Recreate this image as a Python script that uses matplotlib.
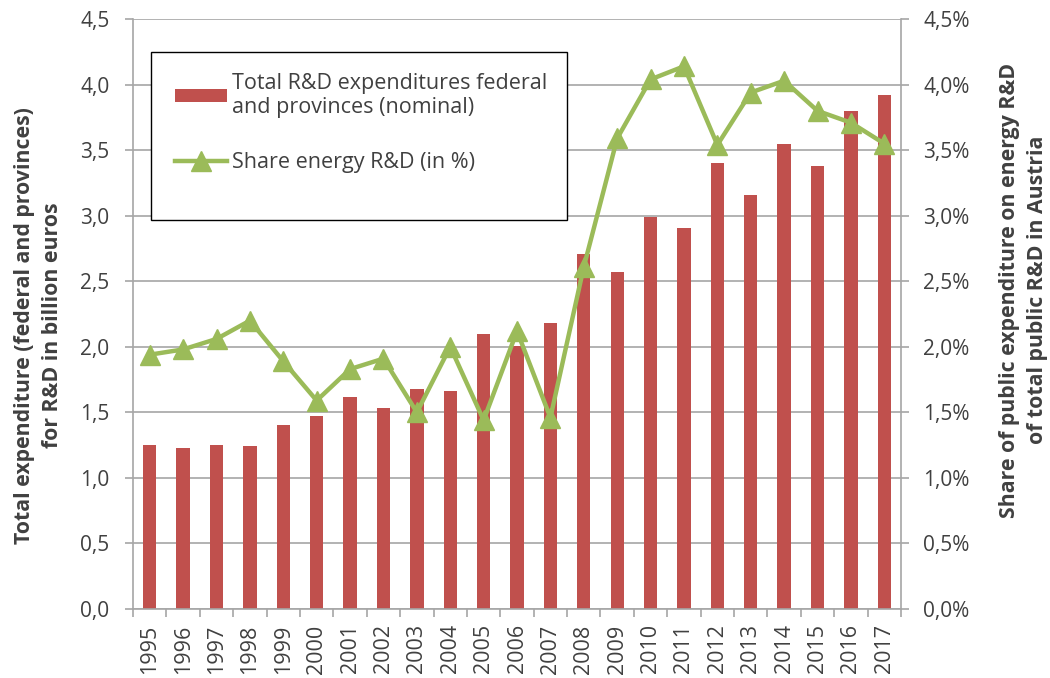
import numpy as np
import matplotlib.pyplot as plt
from matplotlib.ticker import FuncFormatter, FixedLocator
from matplotlib.patches import Rectangle

# data
years = [str(y) for y in range(1995, 2018)]
total_rd = [1.25, 1.23, 1.25, 1.24, 1.40, 1.47, 1.62, 1.53, 1.68, 1.66, 2.10, 2.01,
            2.18, 2.71, 2.57, 2.99, 2.91, 3.40, 3.16, 3.55, 3.38, 3.80, 3.92]
share_energy = [1.94, 1.98, 2.06, 2.20, 1.89, 1.59, 1.83, 1.91, 1.50, 2.00, 1.44, 2.12,
                1.46, 2.61, 3.59, 4.04, 4.14, 3.54, 3.94, 4.03, 3.80, 3.71, 3.55]

bar_color = "#C0504D"
line_color = "#9BBB59"
grid_color = "#A6A6A6"
text_color = "#404040"

plt.rcParams['font.family'] = ['Open Sans', 'DejaVu Sans']

fig = plt.figure(figsize=(10.5, 6.78), dpi=100)
ax = fig.add_axes([0.1267, 0.1018, 0.7314, 0.870])
x = np.arange(len(years))

ax.bar(x, total_rd, width=0.4, color=bar_color, zorder=2,
       label="Total R&D expenditures federal\nand provinces (nominal)")
ax.set_xlim(-0.5, len(years) - 0.5)
ax.set_ylim(0, 4.5)
ax.set_yticks(np.arange(0, 4.51, 0.5))
ax.yaxis.set_major_formatter(FuncFormatter(lambda v, p: f"{v:.1f}".replace('.', ',')))
ax.grid(axis='y', color=grid_color, linewidth=1.2, zorder=0)
ax.set_axisbelow(True)

ax.set_xticks(x)
ax.set_xticklabels(years, rotation=90, fontsize=15.5, color=text_color)
ax.tick_params(axis='x', which='major', length=0, pad=11)
ax.xaxis.set_minor_locator(FixedLocator(np.arange(-0.5, len(years), 1.0)))
ax.tick_params(axis='x', which='minor', length=6, color=grid_color, width=1.2)
ax.tick_params(axis='y', length=6, color=grid_color, width=1.2,
               labelsize=15, labelcolor=text_color, pad=11)

for side in ['top', 'right']:
    ax.spines[side].set_visible(False)
for side in ['left', 'bottom']:
    ax.spines[side].set_color(grid_color)
    ax.spines[side].set_linewidth(1.2)

ax2 = ax.twinx()
ax2.plot(x, share_energy, color=line_color, linewidth=3.2, marker='^',
         markersize=14, zorder=3, label="Share energy R&D (in %)")
ax2.set_ylim(0, 4.5)
ax2.set_yticks(np.arange(0, 4.51, 0.5))
ax2.yaxis.set_major_formatter(FuncFormatter(lambda v, p: f"{v:.1f}%".replace('.', ',')))
ax2.tick_params(axis='y', length=6, color=grid_color, width=1.2,
                labelsize=15, labelcolor=text_color, pad=10)
for side in ['top', 'left', 'bottom']:
    ax2.spines[side].set_visible(False)
ax2.spines['right'].set_color(grid_color)
ax2.spines['right'].set_linewidth(1.2)

# axis titles
fig.text(0.037, 0.52, "Total expenditure (federal and provinces)\nfor R&D in billion euros",
         rotation=90, ha='center', va='center', multialignment='center',
         fontsize=15.3, fontweight='bold', color=text_color, linespacing=1.45)
fig.text(0.975, 0.572, "Share of public expenditure on energy R&D\nof total public R&D in Austria",
         rotation=90, ha='center', va='center', multialignment='center',
         fontsize=15.3, fontweight='bold', color=text_color, linespacing=1.45)

# legend box
ax2.add_patch(Rectangle((0.0234, 0.659), 0.5417, 0.285, transform=ax2.transAxes,
                        facecolor='white', edgecolor='black', linewidth=1.0, zorder=5))
h1, l1 = ax.get_legend_handles_labels()
h2, l2 = ax2.get_legend_handles_labels()
leg = ax2.legend(h1 + h2, l1 + l2, loc='upper left', bbox_to_anchor=(0.035, 0.935),
                 frameon=False, fontsize=15.5, handlelength=2.4, handleheight=0.6,
                 handletextpad=0.25, labelspacing=1.6, labelcolor=text_color,
                 borderpad=0.2)
leg.set_zorder(6)

fig.savefig("out.png", dpi=100)
plt.close()
